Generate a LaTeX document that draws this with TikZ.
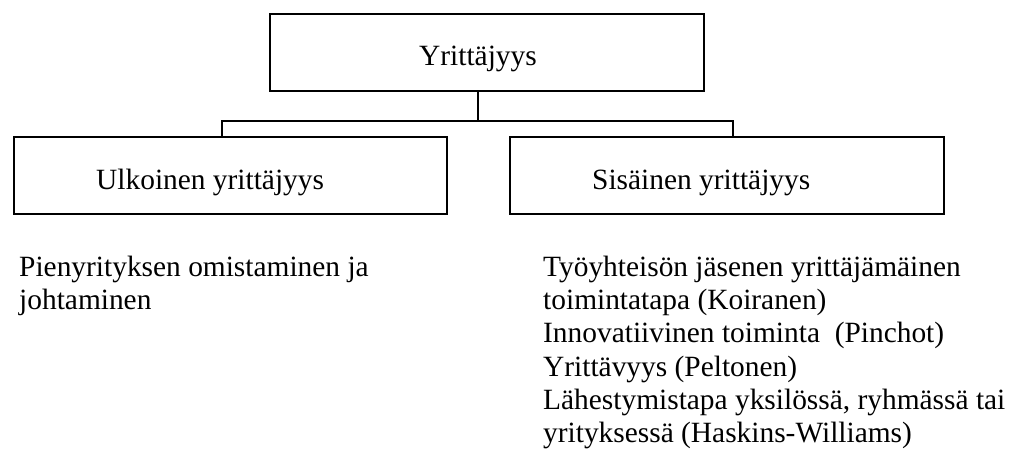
\documentclass[tikz,border=0pt]{standalone}
\usepackage{fontspec}
\setmainfont{Liberation Serif}
\begin{document}
\begin{tikzpicture}[x=1pt,y=-1pt,
  box/.style={draw=black, line width=1.6pt, rectangle, anchor=north west,
    minimum width=#1, minimum height=77pt, inner sep=0pt},
  box/.default=434pt,
  lbl/.style={anchor=base west, inner sep=0pt, font=\fontsize{29.4}{33.2}\selectfont},
  % a multi-line node's base is the baseline of its last line
  para/.style={anchor=base west, inner sep=0pt, align=left,
    font=\fontsize{29.4}{33.2}\selectfont},
  wire/.style={draw=black, line width=1.6pt}]
\useasboundingbox (0,0) rectangle (1013,450);

% boxes
\node[box] (top) at (269,13) {};
\node[box=433pt] (ext) at (13,136) {};
\node[box] (int) at (509,136) {};

% box captions
\node[lbl] (topt) at (419,65) {Yrittäjyys};
\node[lbl] (extt) at (96,189) {Ulkoinen yrittäjyys};
\node[lbl] (intt) at (592,189) {Sisäinen yrittäjyys};

% tree connectors
\coordinate (j)  at (478,121);
\coordinate (jl) at (222,121);
\coordinate (jr) at (733,121);
\draw[wire] (top.south -| j) -- (j);
\draw[wire] (ext.north -| jl) -- (jl) -- (jr) -- (int.north -| jr);

% descriptions
\node[para] (extd) at (19,309.7) {Pienyrityksen omistaminen ja\\johtaminen};
\node[para] (intd) at (543,442.5) {Työyhteisön jäsenen yrittäjämäinen\\toimintatapa (Koiranen)\\Innovatiivinen toiminta\ \ (Pinchot)\\Yrittävyys (Peltonen)\\Lähestymistapa yksilössä, ryhmässä tai\\yrityksessä (Haskins-Williams)};
\end{tikzpicture}
\end{document}
